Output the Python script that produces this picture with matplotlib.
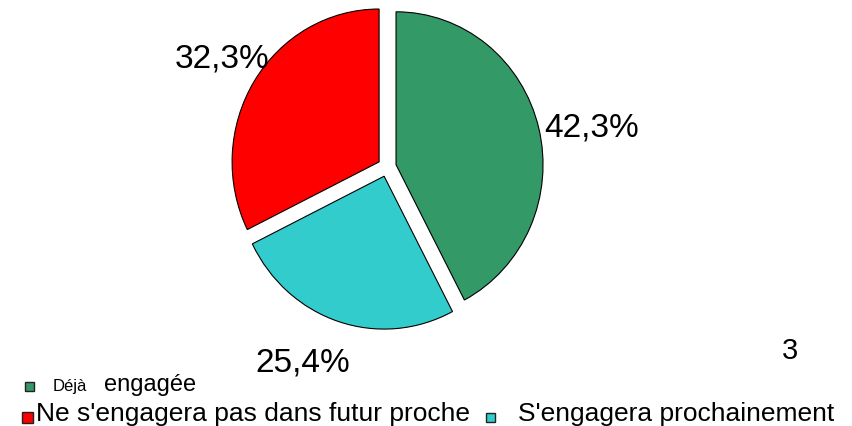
import matplotlib
matplotlib.use("Agg")
import matplotlib.pyplot as plt
from matplotlib.patches import Rectangle

plt.rcParams['font.family'] = ['Liberation Sans', 'DejaVu Sans']

categories = ["Déjà engagée", "S'engagera prochainement", "Ne s'engagera pas dans futur proche"]
values = [42.3, 25.4, 32.3]
colors = ["#339966", "#33CCCC", "#FF0000"]
explode = [9.3, 9.3, 9.3]

W, H = 852, 427
K = 1.04  # vertical stretch of the pie (pixels per data unit in y)
fig = plt.figure(figsize=(W / 100, H / 100), dpi=100)
ax = fig.add_axes([0, 0, 1, 1])


def py(y_px):
    return (H - y_px) / K


ax.pie(values, colors=colors, explode=explode, startangle=90, counterclock=False,
       center=(387, py(168)), radius=147,
       wedgeprops=dict(edgecolor='black', linewidth=0.8))
ax.set_xlim(0, W)
ax.set_ylim(0, H / K)
ax.set_aspect('auto')
ax.axis('off')


def fmt(v):
    return f"{v:.1f}%".replace('.', ',')


# percentage labels (pixel positions: left, baseline)
label_pos = [(544, 137), (255, 372), (175, 68)]
for v, (x, y) in zip(values, label_pos):
    ax.text(x, py(y), fmt(v), fontsize=24, ha='left', va='baseline', color='black')

ax.text(782, py(359), "3", fontsize=21, ha='left', va='baseline', color='black')


# legend (manual layout)
def square(cx, cy, s, color):
    ax.add_patch(Rectangle((cx - s / 2, py(cy + s / 2)), s, s / K, facecolor=color,
                           edgecolor='#222222', linewidth=1.0, clip_on=False))


square(29, 387, 9, colors[0])
ax.text(53, py(391), "Déjà", fontsize=12, ha='left', va='baseline')
ax.text(104, py(391), "engagée", fontsize=17, ha='left', va='baseline')

square(27, 418, 11, colors[2])
ax.text(36, py(421), categories[2], fontsize=19, ha='left', va='baseline')

square(490.5, 418.5, 9.5, colors[1])
ax.text(518, py(421), categories[1], fontsize=19, ha='left', va='baseline')

fig.savefig("out.png", dpi=100)
